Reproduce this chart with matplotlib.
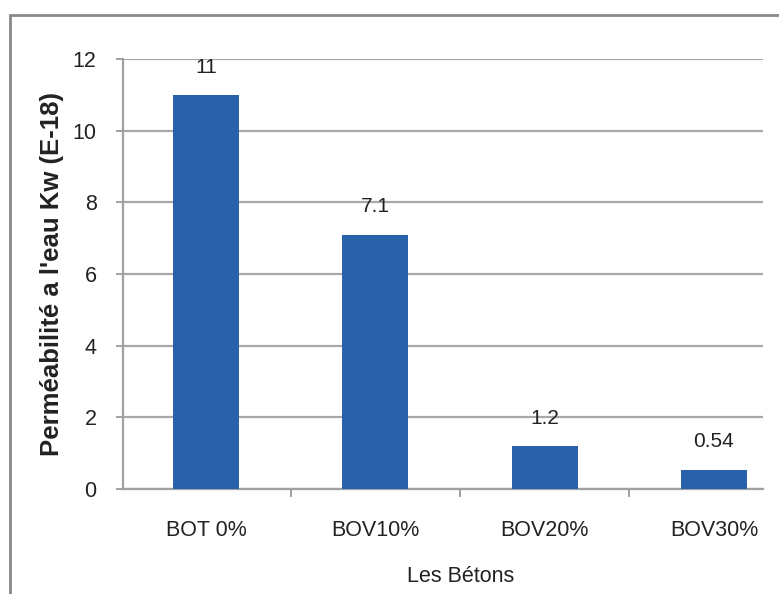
import matplotlib.pyplot as plt
from matplotlib.patches import Rectangle

# Water permeability of the concretes
categories = ['BOT 0%', 'BOV10%', 'BOV20%', 'BOV30%']
values = [11, 7.1, 1.2, 0.54]
value_labels = ['11', '7.1', '1.2', '0.54']
yticks = [0, 2, 4, 6, 8, 10, 12]

plt.rcParams['font.family'] = ['Liberation Sans', 'DejaVu Sans']

fig = plt.figure(figsize=(7.79, 5.94), dpi=100)
ax = fig.add_axes([123 / 779, 1 - 489 / 594, 640 / 779, 430 / 594])

x = list(range(len(categories)))
ax.bar(x, values, width=0.39, color='#2962AA', zorder=3)

for xi, v, lab in zip(x, values, value_labels):
    ax.annotate(lab, (xi, v), xytext=(0, 20), textcoords='offset points',
                ha='center', va='center', fontsize=15, color='#222222', zorder=4)

ax.set_xlim(-0.49, 3.29)
ax.set_ylim(0, 12)
ax.set_yticks(yticks)
ax.set_yticklabels([str(t) for t in yticks], fontsize=15.5, color='#222222')
ax.set_xticks(x)
ax.set_xticklabels(categories, fontsize=15.5, color='#222222')
ax.tick_params(axis='x', length=0, pad=22)
ax.tick_params(axis='y', length=5, color='#909090', width=1.2, pad=14)

# category separators on the x axis
ax.set_xticks([0.5, 1.5, 2.5], minor=True)
ax.tick_params(axis='x', which='minor', length=6, color='#909090', width=1.2)

ax.grid(axis='y', color='#a8a8a8', lw=1.6, zorder=0)
for s in ['top', 'right']:
    ax.spines[s].set_visible(False)
for s in ['left', 'bottom']:
    ax.spines[s].set_color('#a0a0a0')
    ax.spines[s].set_linewidth(1.6)

ax.set_ylabel("Perméabilité a l'eau Kw (E-18)", fontsize=18.5, fontweight='bold',
              color='#222222', labelpad=6)

fig.text(461 / 779, 1 - 577 / 594, 'Les Bétons', ha='center', va='center',
         fontsize=15.5, color='#222222')

# outer chart frame
fig.patches.append(Rectangle((10 / 779, -0.05), 1.2, 1 - 15 / 594 + 0.05,
                             transform=fig.transFigure, fill=False,
                             edgecolor='#888888', lw=2, zorder=6))

fig.savefig('out.png', dpi=100)
